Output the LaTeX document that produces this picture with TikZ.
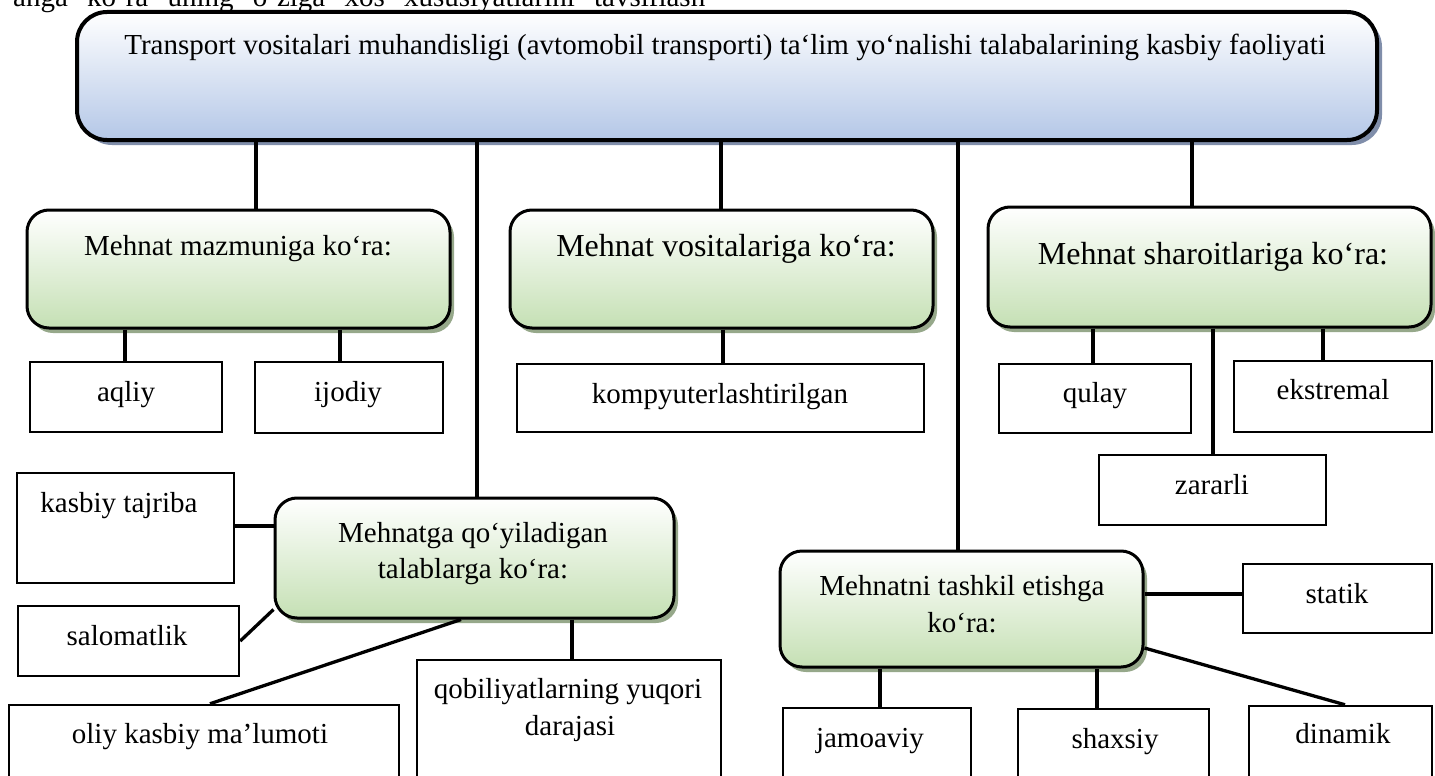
\documentclass[tikz,border=0pt]{standalone}
\usepackage{fontspec}
\setmainfont{Liberation Serif}
\usetikzlibrary{shadows}
\definecolor{gbot}{RGB}{197,224,180}
\definecolor{bbot}{RGB}{180,199,231}
\definecolor{gsh}{RGB}{150,168,138}
\definecolor{bsh}{RGB}{128,142,170}
\tikzset{
  topbox/.style={draw, line width=4pt, rounded corners=30pt, top color=white, bottom color=bbot,
    inner sep=0pt, drop shadow={shadow xshift=5pt, shadow yshift=-5pt, fill=bsh, opacity=1}},
  greenbox/.style={draw, line width=3pt, rounded corners=22pt, top color=white, bottom color=gbot,
    inner sep=0pt, drop shadow={shadow xshift=4pt, shadow yshift=-5pt, fill=gsh, opacity=1}},
  leaf/.style={draw, line width=2.5pt, fill=white, inner sep=0pt},
  conn/.style={line width=3.3pt},
  txt/.style={inner sep=0pt, anchor=base, font=\fontsize{29}{36}\selectfont},
  bigtxt/.style={inner sep=0pt, anchor=base, font=\fontsize{32}{38}\selectfont},
}
\begin{document}
\begin{tikzpicture}[x=1pt, y=-1pt]
\useasboundingbox (0,0) rectangle (1435,776);
\fill[white] (0,0) rectangle (1435,776);

% cut-off text line at the very top
\node[txt, anchor=base west] (cut) at (13,7)
  {\makebox[692pt][s]{anga ko‘ra uning o‘ziga xos xususiyatlarini tavsiflash}};

% boxes
\node[topbox, minimum width=1300pt, minimum height=128pt] (top) at (727,76) {};
\node[greenbox, minimum width=423pt, minimum height=118pt] (g1) at (238.5,269) {};
\node[greenbox, minimum width=423pt, minimum height=118pt] (g2) at (721.5,269) {};
\node[greenbox, minimum width=443pt, minimum height=120pt] (g3) at (1209.5,267) {};
\node[greenbox, minimum width=399pt, minimum height=120pt] (mq) at (474.5,558) {};
\node[greenbox, minimum width=363pt, minimum height=116pt] (mt) at (961.5,609) {};

\node[leaf, minimum width=192pt, minimum height=70pt] (aq) at (126,397) {};
\node[leaf, minimum width=188pt, minimum height=71pt] (ij) at (349,397.5) {};
\node[leaf, minimum width=407pt, minimum height=68pt] (kp) at (720.5,398) {};
\node[leaf, minimum width=192pt, minimum height=69pt] (ql) at (1095,398.5) {};
\node[leaf, minimum width=198pt, minimum height=71pt] (ek) at (1333,396.5) {};
\node[leaf, minimum width=227pt, minimum height=70pt] (zr) at (1212.5,490) {};
\node[leaf, minimum width=217pt, minimum height=110pt] (kt) at (125.5,528) {};
\node[leaf, minimum width=221pt, minimum height=70pt] (sal) at (128.5,641) {};
\node[leaf, minimum width=390pt, minimum height=95pt] (ol) at (204,752.5) {};
\node[leaf, minimum width=304pt, minimum height=140pt] (qb) at (569,730) {};
\node[leaf, minimum width=189pt, minimum height=69pt] (st) at (1337.5,598.5) {};
\node[leaf, minimum width=188pt, minimum height=92pt] (jm) at (877,754) {};
\node[leaf, minimum width=191pt, minimum height=91pt] (sx) at (1113.5,754.5) {};
\node[leaf, minimum width=183pt, minimum height=94pt] (dn) at (1340.5,753) {};

% texts
\node[txt] (ttop) at (725,55) {Transport vositalari muhandisligi (avtomobil transporti) ta‘lim yo‘nalishi talabalarining kasbiy faoliyati};
\node[txt] (tg1) at (238,255) {Mehnat mazmuniga ko‘ra:};
\node[bigtxt] (tg2) at (726,256) {Mehnat vositalariga ko‘ra:};
\node[bigtxt] (tg3) at (1213,264) {Mehnat sharoitlariga ko‘ra:};
\node[txt] (tmq1) at (473,542) {Mehnatga qo‘yiladigan};
\node[txt] (tmq2) at (473,578) {talablarga ko‘ra:};
\node[txt] (tmt1) at (962,595) {Mehnatni tashkil etishga};
\node[txt] (tmt2) at (962,632) {ko‘ra:};
\node[txt] (taq) at (126,401) {aqliy};
\node[txt] (tij) at (348,401) {ijodiy};
\node[txt] (tkp) at (720,403) {kompyuterlashtirilgan};
\node[txt] (tql) at (1095,402) {qulay};
\node[txt] (tek) at (1333,399) {ekstremal};
\node[txt] (tzr) at (1212,494) {zararli};
\node[txt] (tkt) at (119,512) {kasbiy tajriba};
\node[txt] (tsal) at (127,645) {salomatlik};
\node[txt] (tol) at (200,743) {oliy kasbiy ma’lumoti};
\node[txt] (tqb1) at (568,698) {qobiliyatlarning yuqori};
\node[txt] (tqb2) at (570,735) {darajasi};
\node[txt] (tst) at (1337,603) {statik};
\node[txt] (tjm) at (870,747) {jamoaviy};
\node[txt] (tsx) at (1115,748) {shaxsiy};
\node[txt] (tdn) at (1343,743) {dinamik};

% connectors
\draw[conn] (top.south -| 256,0) -- (g1.north -| 256,0);
\draw[conn] (top.south -| 477,0) -- (mq.north -| 477,0);
\draw[conn] (top.south -| 721,0) -- (g2.north -| 721,0);
\draw[conn] (top.south -| 958,0) -- (mt.north -| 958,0);
\draw[conn] (top.south -| 1192,0) -- (g3.north -| 1192,0);

\draw[conn] (g1.south -| 125,0) -- (aq.north -| 125,0);
\draw[conn] (g1.south -| 340,0) -- (ij.north -| 340,0);
\draw[conn] (g2.south -| 723,0) -- (kp.north -| 723,0);
\draw[conn] (g3.south -| 1093,0) -- (ql.north -| 1093,0);
\draw[conn] (g3.south -| 1213,0) -- (zr.north -| 1213,0);
\draw[conn] (g3.south -| 1323,0) -- (ek.north -| 1323,0);

\draw[conn] (kt.east |- 0,526) -- (mq.west |- 0,526);
\draw[conn] (sal.east) -- ([yshift=10pt]mq.south west);
\draw[conn] (ol.north -| 210,0) -- (mq.south -| 461,0);
\draw[conn] (mq.south -| 572,0) -- (qb.north -| 572,0);

\draw[conn] (mt.east |- 0,594) -- (st.west |- 0,594);
\draw[conn] ([yshift=-39pt]mt.east) -- (dn.north -| 1345,0);
\draw[conn] (mt.south -| 880,0) -- (jm.north -| 880,0);
\draw[conn] (mt.south -| 1097,0) -- (sx.north -| 1097,0);
\end{tikzpicture}
\end{document}
